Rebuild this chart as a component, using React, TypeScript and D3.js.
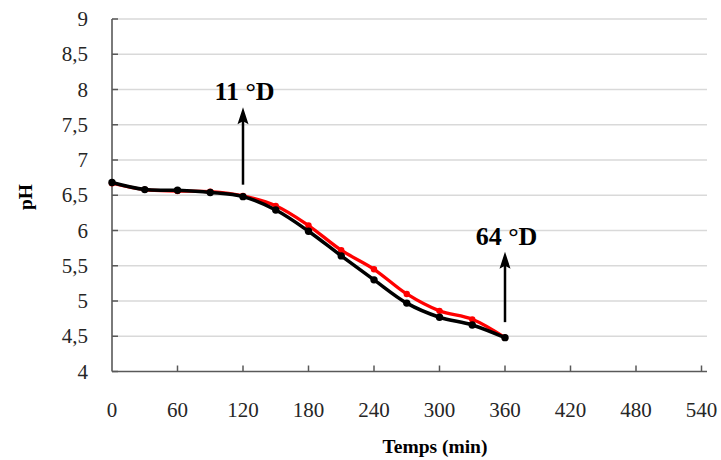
import React from "react";
import * as d3 from "d3";

const times = [0, 30, 60, 90, 120, 150, 180, 210, 240, 270, 300, 330, 360];
const blackSeries = [6.68, 6.58, 6.57, 6.54, 6.48, 6.29, 5.99, 5.64, 5.3, 4.97, 4.77, 4.66, 4.48];
const redSeries = [6.67, 6.58, 6.56, 6.55, 6.49, 6.35, 6.07, 5.72, 5.45, 5.1, 4.86, 4.74, 4.48];
const xTicks = [0, 60, 120, 180, 240, 300, 360, 420, 480, 540];
const yTicks = [4, 4.5, 5, 5.5, 6, 6.5, 7, 7.5, 8, 8.5, 9];
const annotations = [
  { t: 120, from: 6.65, to: 7.75, label: "11 °D" },
  { t: 360, from: 4.7, to: 5.7, label: "64 °D" },
];

const W = 721;
const H = 460;
const FONT = "'Liberation Serif', 'Times New Roman', serif";

export default function App() {
  const x = d3.scaleLinear().domain([0, 540]).range([112, 701.5]);
  const y = d3.scaleLinear().domain([4, 9]).range([371.5, 19]);
  const line = d3
    .line<number>()
    .x((_, i) => x(times[i]))
    .y((v) => y(v))
    .curve(d3.curveCatmullRom.alpha(0.5));
  const fmt = (v: number) => String(v).replace(".", ",");
  const plotRight = 707;

  return (
    <svg
      width={W}
      height={H}
      style={{ position: "absolute", left: 0, top: 0, background: "#fff" }}
      fontFamily={FONT}
    >
      {/* gridlines */}
      {yTicks.slice(1).map((v) => (
        <line
          key={"g" + v}
          x1={x(0)}
          x2={plotRight}
          y1={y(v)}
          y2={y(v)}
          stroke="#d9d9d9"
          strokeWidth={1.5}
        />
      ))}
      {/* y ticks */}
      {yTicks.map((v) => (
        <g key={"yt" + v}>
          <line x1={x(0)} x2={x(0) + 6} y1={y(v)} y2={y(v)} stroke="#595959" strokeWidth={1.5} />
          <text
            x={88}
            y={y(v) + 7}
            textAnchor="end"
            fontSize={21}
            fill="#262626"
          >
            {fmt(v)}
          </text>
        </g>
      ))}
      {/* x ticks */}
      {xTicks.map((v) => (
        <g key={"xt" + v}>
          {v > 0 && (
            <line x1={x(v)} x2={x(v)} y1={y(4)} y2={y(4) - 6} stroke="#595959" strokeWidth={1.5} />
          )}
          <text x={x(v)} y={416.5} textAnchor="middle" fontSize={21} fill="#262626">
            {v}
          </text>
        </g>
      ))}
      {/* axes */}
      <line x1={x(0)} x2={x(0)} y1={y(9)} y2={y(4)} stroke="#595959" strokeWidth={1.6} />
      <line x1={x(0)} x2={plotRight} y1={y(4)} y2={y(4)} stroke="#595959" strokeWidth={1.6} />

      {/* series */}
      <path d={line(redSeries) || ""} fill="none" stroke="#ff0000" strokeWidth={3.3} />
      {redSeries.map((v, i) => (
        <circle key={"r" + i} cx={x(times[i])} cy={y(v)} r={3.2} fill="#ff0000" />
      ))}
      <path d={line(blackSeries) || ""} fill="none" stroke="#000" strokeWidth={3.5} />
      {blackSeries.map((v, i) => (
        <circle key={"b" + i} cx={x(times[i])} cy={y(v)} r={3.7} fill="#000" />
      ))}

      {/* annotations */}
      {annotations.map((a) => {
        const ax = x(a.t);
        const yTip = y(a.to);
        const yBot = y(a.from);
        return (
          <g key={a.label}>
            <line x1={ax} x2={ax} y1={yBot} y2={yTip + 12} stroke="#000" strokeWidth={2.5} />
            <path
              d={`M${ax},${yTip} L${ax - 5.5},${yTip + 17} L${ax},${yTip + 14} L${ax + 5.5},${yTip + 17} Z`}
              fill="#000"
            />
            <text
              x={ax + 1.5}
              y={yTip - 7}
              textAnchor="middle"
              fontSize={26}
              fontWeight="bold"
              fill="#000"
            >
              {a.label}
            </text>
          </g>
        );
      })}

      {/* axis titles */}
      <text x={435} y={453} textAnchor="middle" fontSize={19.5} fontWeight="bold" fill="#000">
        Temps (min)
      </text>
      <text
        transform={`translate(32,197) rotate(-90)`}
        textAnchor="middle"
        fontSize={19.5}
        fontWeight="bold"
        fill="#000"
      >
        pH
      </text>
    </svg>
  );
}
